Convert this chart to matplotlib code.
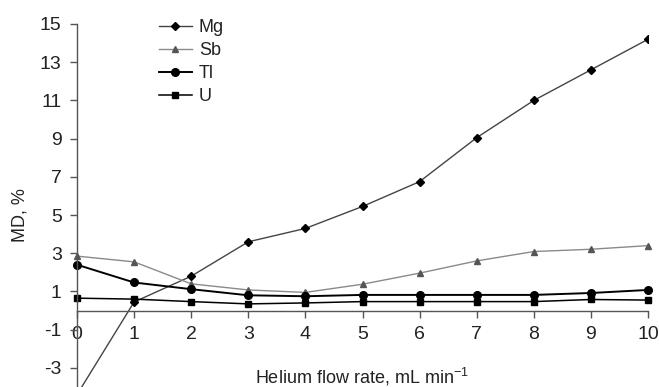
import matplotlib
matplotlib.use("Agg")
import matplotlib.pyplot as plt

plt.rcParams['font.family'] = ['Liberation Sans', 'DejaVu Sans']
plt.rcParams['axes.unicode_minus'] = False

flow = [0, 1, 2, 3, 4, 5, 6, 7, 8, 9, 10]
mg = [-4.4, 0.45, 1.8, 3.6, 4.3, 5.45, 6.75, 9.05, 11.0, 12.6, 14.2]
sb = [2.85, 2.55, 1.4, 1.08, 0.95, 1.38, 1.96, 2.6, 3.09, 3.21, 3.4]
tl = [2.4, 1.47, 1.12, 0.8, 0.75, 0.82, 0.82, 0.82, 0.82, 0.92, 1.08]
u = [0.65, 0.6, 0.47, 0.35, 0.4, 0.47, 0.47, 0.47, 0.47, 0.58, 0.55]
yticks = [-3, -1, 1, 3, 5, 7, 9, 11, 13, 15]
xticks = [0, 1, 2, 3, 4, 5, 6, 7, 8, 9, 10]

fig = plt.figure(figsize=(6.59, 3.87), dpi=100)
ax = fig.add_axes([77/659, 0.0, (648-77)/659, 1 - 24/387])

ax.plot(flow, mg, color='#444444', lw=1.0, marker='D', ms=4.0, mfc='black', mec='black', label='Mg', clip_on=True)
ax.plot(flow, sb, color='#8a8a8a', lw=1.0, marker='^', ms=5.0, mfc='#555555', mec='#555555', label='Sb', clip_on=False)
ax.plot(flow, tl, color='black', lw=1.4, marker='o', ms=5.5, mfc='black', mec='black', label='Tl', clip_on=False)
ax.plot(flow, u, color='black', lw=1.1, marker='s', ms=5.0, mfc='black', mec='black', label='U', clip_on=False)

ax.set_xlim(0, 10)
ax.set_ylim(-4, 15)
ax.spines['top'].set_visible(False)
ax.spines['right'].set_visible(False)
ax.spines['bottom'].set_position(('data', 0))
for s in ('left', 'bottom'):
    ax.spines[s].set_color('#555555')
    ax.spines[s].set_linewidth(1.0)

ax.set_yticks(yticks)
ax.set_xticks(xticks)
ax.tick_params(axis='y', direction='out', length=5, width=1, color='#555555', pad=6, labelsize=14, labelcolor='#222222')
ax.tick_params(axis='x', direction='out', length=5, width=1, color='#555555', pad=6, labelsize=14, labelcolor='#222222')

fig.text(362/659, 1 - 383/387, 'Helium flow rate, mL min$^{\\mathregular{-1}}$', ha='center', va='baseline', fontsize=13, color='#222222')
fig.text(20/659, 1 - 215/387, 'MD, %', ha='center', va='center', rotation=90, fontsize=13, color='#222222')

leg = ax.legend(loc='upper left', bbox_to_anchor=(152/659, 1 - 12/387), bbox_transform=fig.transFigure,
                frameon=False, fontsize=13, handlelength=1.8, handletextpad=0.4, labelspacing=0.33,
                borderaxespad=0)
for t in leg.get_texts():
    t.set_color('#222222')

fig.savefig('out.png', dpi=100)
